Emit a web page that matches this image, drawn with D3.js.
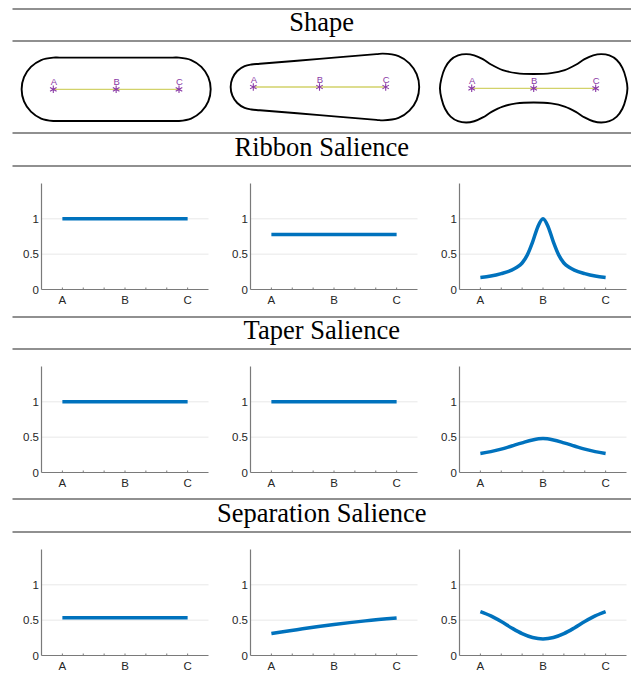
<!DOCTYPE html>
<html>
<head>
<meta charset="utf-8">
<script src="https://cdn.jsdelivr.net/npm/d3@7"></script>
<style>
  body { margin: 0; background: #fff; }
  svg { display: block; }
  .title { font-family: 'Liberation Serif', 'Times New Roman', serif; font-size: 26.5px; fill: #000; }
  .tick-label { font-family: 'Liberation Sans', Arial, sans-serif; font-size: 11.5px; fill: #262626; }
  .pt-label { font-family: 'Liberation Sans', Arial, sans-serif; font-size: 9.5px; fill: #8a3aa6; }
</style>
</head>
<body>
<div id="chart"></div>
<script>
const rowTitles = ['Shape', 'Ribbon Salience', 'Taper Salience', 'Separation Salience']
const pointNames = ['A', 'B', 'C']
const pointPos = [0, 0.5, 1]
const xTicks = [0, 1 / 6, 2 / 6, 3 / 6, 4 / 6, 5 / 6, 1]
const xTickLabels = { 0: 'A', 3: 'B', 6: 'C' }
const yTicks = [0, 0.5, 1]

// sample positions along A..C (A = 0, C = 1)
const flatU = [0, 1]
const quarterU = [0, 0.25, 0.5, 0.75, 1]
const twelfthU = [0, 1 / 12, 2 / 12, 3 / 12, 4 / 12, 5 / 12, 6 / 12, 7 / 12, 8 / 12, 9 / 12, 10 / 12, 11 / 12, 1]
const peakU = [
  0, 2 / 24, 4 / 24, 6 / 24, 7 / 24, 8 / 24, 9 / 24, 10 / 24, 11 / 24, 12 / 24,
  13 / 24, 14 / 24, 15 / 24, 16 / 24, 17 / 24, 18 / 24, 20 / 24, 22 / 24, 1,
]

// salience values
const ribbonStadium = [1, 1]
const ribbonTaper = [0.78, 0.78]
const ribbonDumbbell = [
  0.17, 0.19, 0.225, 0.275, 0.315, 0.375, 0.49, 0.67, 0.885, 1.0,
  0.885, 0.67, 0.49, 0.375, 0.315, 0.275, 0.225, 0.19, 0.17,
]
const taperStadium = [1, 1]
const taperTaper = [1, 1]
const taperDumbbell = [0.27, 0.295, 0.33, 0.375, 0.42, 0.46, 0.48, 0.46, 0.42, 0.375, 0.33, 0.295, 0.27]
const sepStadium = [0.535, 0.535]
const sepTaper = [0.31, 0.38, 0.44, 0.49, 0.53]
const sepDumbbell = [0.62, 0.56, 0.48, 0.39, 0.31, 0.255, 0.235, 0.255, 0.31, 0.39, 0.48, 0.56, 0.62]

// outline half-widths [u, h] of each shape (top side, left to right), in units of |AC|
const stadiumTop = [
  [-0.252, 0], [-0.233, 0.0965], [-0.178, 0.178], [-0.0965, 0.233], [0, 0.252], [0.05, 0.252],
  [0.5, 0.252], [0.95, 0.252], [1, 0.252], [1.0965, 0.233], [1.178, 0.178], [1.233, 0.0965], [1.252, 0],
]
const taperTop = [
  [-0.171, 0], [-0.158, 0.0654], [-0.121, 0.121], [-0.0654, 0.158], [-0.014, 0.17], [0.05, 0.1753],
  [0.5, 0.2125], [0.93, 0.248], [0.979, 0.252], [1.097, 0.2337], [1.179, 0.179], [1.234, 0.0968], [1.253, 0],
]
const dumbbellTop = [
  [-0.256, 0], [-0.244, 0.08], [-0.215, 0.165], [-0.17, 0.228], [-0.11, 0.265], [-0.045, 0.276], [0.02, 0.266],
  [0.09, 0.235], [0.16, 0.19], [0.25, 0.147], [0.36, 0.122], [0.5, 0.115], [0.64, 0.122], [0.75, 0.147],
  [0.84, 0.19], [0.91, 0.235], [0.98, 0.266], [1.045, 0.276], [1.11, 0.265], [1.17, 0.228], [1.215, 0.165],
  [1.244, 0.08], [1.256, 0],
]

const shapes = [stadiumTop, taperTop, dumbbellTop]
const chartRows = [
  [{ u: flatU, v: ribbonStadium }, { u: flatU, v: ribbonTaper }, { u: peakU, v: ribbonDumbbell }],
  [{ u: flatU, v: taperStadium }, { u: flatU, v: taperTaper }, { u: twelfthU, v: taperDumbbell }],
  [{ u: flatU, v: sepStadium }, { u: quarterU, v: sepTaper }, { u: twelfthU, v: sepDumbbell }],
]

const W = 642
const H = 681
const RULE_X = [12.5, 631]
const RULES = [9, 41, 133, 166, 317, 349, 499, 532]
const TITLE_BASE = [31, 156, 339, 522]

// shape panel geometry: pixel x of A and C, centreline y
const shapeA = [53.3, 253.3, 471.7]
const shapeC = [179, 385.7, 595.7]
const shapeY = [89.3, 87, 88.3]

// chart panel geometry
const colLeft = [41.5, 250.5, 459.5]
const plotW = 167
const rowBase = [289.5, 472.5, 655.5]
const plotH = 106

const svg = d3.select('#chart').append('svg').attr('width', W).attr('height', H)

svg.selectAll('line.rule')
  .data(RULES)
  .join('line')
  .attr('class', 'rule')
  .attr('x1', RULE_X[0]).attr('x2', RULE_X[1])
  .attr('y1', (d) => d).attr('y2', (d) => d)
  .attr('stroke', '#222')
  .attr('stroke-width', 1.2)

svg.selectAll('text.title')
  .data(rowTitles)
  .join('text')
  .attr('class', 'title')
  .attr('text-anchor', 'middle')
  .attr('x', (RULE_X[0] + RULE_X[1]) / 2)
  .attr('y', (d, i) => TITLE_BASE[i])
  .text((d) => d)

// --- shape row
const outline = d3.line().curve(d3.curveCatmullRomClosed.alpha(0.5))
const star = d3.symbol().type(d3.symbolAsterisk).size(40)

shapes.forEach((top, i) => {
  const len = shapeC[i] - shapeA[i]
  const sx = d3.scaleLinear().domain([0, 1]).range([shapeA[i], shapeC[i]])
  const sy = d3.scaleLinear().domain([-1, 1]).range([shapeY[i] + len, shapeY[i] - len])
  const bottom = top.slice(1, -1).reverse().map(([u, h]) => [u, -h])
  const pts = top.concat(bottom).map(([u, h]) => [sx(u), sy(h)])

  const g = svg.append('g')
  g.append('path')
    .attr('d', outline(pts))
    .attr('fill', 'none')
    .attr('stroke', '#000')
    .attr('stroke-width', 1.9)

  g.append('line')
    .attr('x1', sx(0)).attr('x2', sx(1))
    .attr('y1', sy(0)).attr('y2', sy(0))
    .attr('stroke', '#d2d26a')
    .attr('stroke-width', 1.3)

  g.selectAll('path.star')
    .data(pointPos)
    .join('path')
    .attr('class', 'star')
    .attr('transform', (d) => `translate(${sx(d)},${sy(0)})`)
    .attr('d', star)
    .attr('fill', 'none')
    .attr('stroke', '#8a3aa6')
    .attr('stroke-width', 1.1)

  g.selectAll('text.pt-label')
    .data(pointPos)
    .join('text')
    .attr('class', 'pt-label')
    .attr('text-anchor', 'middle')
    .attr('x', (d) => sx(d) + 0.5)
    .attr('y', sy(0) - 4.5)
    .text((d, j) => pointNames[j])
})

// --- salience charts
const AXIS_COLOR = '#7a7a7a'

chartRows.forEach((row, r) => {
  row.forEach((series, c) => {
    const x = d3.scaleLinear().domain([-1 / 6, 7 / 6]).range([colLeft[c], colLeft[c] + plotW])
    const y = d3.scaleLinear().domain([0, 1.5]).range([rowBase[r], rowBase[r] - plotH])
    const g = svg.append('g')

    g.selectAll('line.grid')
      .data(yTicks.filter((t) => t > 0))
      .join('line')
      .attr('class', 'grid')
      .attr('x1', x.range()[0]).attr('x2', x.range()[1])
      .attr('y1', (d) => y(d)).attr('y2', (d) => y(d))
      .attr('stroke', '#e8e8e8')
      .attr('stroke-width', 1)

    // x axis with inward ticks
    g.append('line')
      .attr('x1', x.range()[0]).attr('x2', x.range()[1])
      .attr('y1', y(0)).attr('y2', y(0))
      .attr('stroke', AXIS_COLOR).attr('stroke-width', 1.2)
    g.selectAll('line.xtick')
      .data(xTicks)
      .join('line')
      .attr('class', 'xtick')
      .attr('x1', (d) => x(d)).attr('x2', (d) => x(d))
      .attr('y1', y(0)).attr('y2', y(0) - 2)
      .attr('stroke', AXIS_COLOR).attr('stroke-width', 1)
    g.selectAll('text.xlab')
      .data(xTicks.map((d, j) => ({ d, label: xTickLabels[j] })).filter((t) => t.label))
      .join('text')
      .attr('class', 'tick-label')
      .attr('text-anchor', 'middle')
      .attr('x', (t) => x(t.d))
      .attr('y', y(0) + 14.5)
      .text((t) => t.label)

    // y axis
    g.append('line')
      .attr('x1', x.range()[0]).attr('x2', x.range()[0])
      .attr('y1', y(0)).attr('y2', y(1.5))
      .attr('stroke', AXIS_COLOR).attr('stroke-width', 1.2)
    g.selectAll('text.ylab')
      .data(yTicks)
      .join('text')
      .attr('class', 'tick-label')
      .attr('text-anchor', 'end')
      .attr('dominant-baseline', 'central')
      .attr('x', x.range()[0] - 2.5)
      .attr('y', (d) => y(d))
      .text((d) => d3.format('~g')(d))

    const line = d3.line()
      .x((d) => x(d[0]))
      .y((d) => y(d[1]))
      .curve(d3.curveMonotoneX)

    g.append('path')
      .datum(series.u.map((u, j) => [u, series.v[j]]))
      .attr('d', line)
      .attr('fill', 'none')
      .attr('stroke', '#0072bd')
      .attr('stroke-width', 3.5)
  })
})
</script>
</body>
</html>
